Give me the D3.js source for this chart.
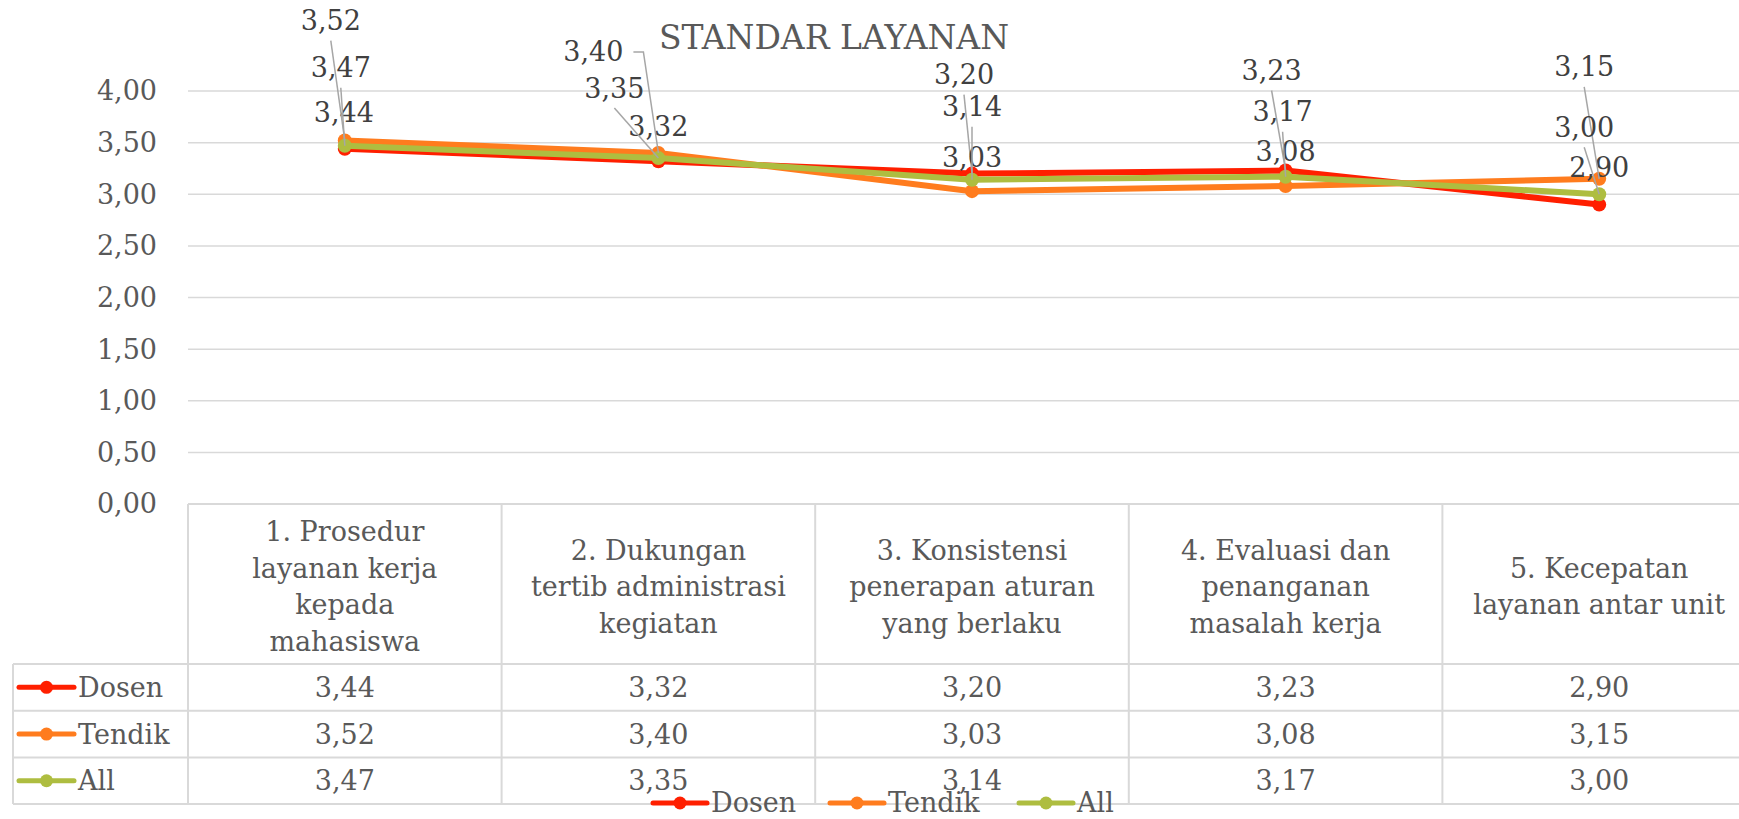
<!DOCTYPE html>
<html>
<head>
<meta charset="utf-8">
<script src="https://cdn.jsdelivr.net/npm/d3@7"></script>
<style>
	body { margin: 0; background: #fff; overflow: hidden; }
	text { font-family: "DejaVu Serif", serif; }
</style>
</head>
<body>
<div id="chart"></div>
<script>
// category header lines, as wrapped in the table
const categories = [
	["1. Prosedur", "layanan kerja", "kepada", "mahasiswa"],
	["2. Dukungan", "tertib administrasi", "kegiatan"],
	["3. Konsistensi", "penerapan aturan", "yang berlaku"],
	["4. Evaluasi dan", "penanganan", "masalah kerja"],
	["5. Kecepatan", "layanan antar unit"]
];
const seriesNames = ["Dosen", "Tendik", "All"];
const dosenValues = [3.44, 3.32, 3.20, 3.23, 2.90];
const tendikValues = [3.52, 3.40, 3.03, 3.08, 3.15];
const allValues = [3.47, 3.35, 3.14, 3.17, 3.00];
const yTickValues = [0, 0.5, 1, 1.5, 2, 2.5, 3, 3.5, 4];

// where the data labels were dragged to (dx, dy from the point)
const labelOffsets = [
	[[-1, -36], [0, -35], [-8, -99], [-14, -100], [0, -37]],
	[[-14, -120], [-65, -101], [0, -34], [0, -34], [-15, -112]],
	[[-4, -78], [-44, -70], [0, -73], [-3, -65], [-15, -67]]
];

const COLORS = ["#FF1F00", "#FF7C1E", "#AEBD40"];
const FONT_SIZE = 27;
const GRID = "#D9D9D9";
const TEXT = "#595959";

function fmt(v) {
	return d3.format(".2f")(v).replace(".", ",");
}

function plotChart(width = 1739, height = 819) {
	const series = [dosenValues, tendikValues, allValues].map((vals, i) => ({
		name: seriesNames[i],
		color: COLORS[i],
		values: vals.map((v, j) => ({ cat: j, value: v }))
	}));

	const svg = d3.select("#chart").append("svg")
		.attr("width", width)
		.attr("height", height);

	const x = d3.scaleBand()
		.domain(d3.range(categories.length))
		.range([188, 1756]);
	const y = d3.scaleLinear()
		.domain([0, 4])
		.range([504, 91]);
	const cx = i => x(i) + x.bandwidth() / 2;

	// title
	svg.append("text")
		.attr("x", 834)
		.attr("y", 49)
		.attr("text-anchor", "middle")
		.attr("font-size", 33)
		.attr("fill", TEXT)
		.text("STANDAR LAYANAN");

	// gridlines + y labels
	svg.append("g")
		.selectAll("line")
		.data(yTickValues)
		.join("line")
		.attr("x1", x.range()[0])
		.attr("x2", x.range()[1])
		.attr("y1", d => y(d))
		.attr("y2", d => y(d))
		.attr("stroke", GRID)
		.attr("stroke-width", 1.5);

	svg.append("g")
		.selectAll("text")
		.data(yTickValues)
		.join("text")
		.attr("x", 157)
		.attr("y", d => y(d))
		.attr("dy", "0.35em")
		.attr("text-anchor", "end")
		.attr("font-size", FONT_SIZE)
		.attr("fill", TEXT)
		.text(d => fmt(d));

	// data table under the plot
	const tableTop = y(0), headerBottom = 664, rowH = 46.7;
	const tableBottom = headerBottom + rowH * series.length;
	const table = svg.append("g")
		.attr("stroke", GRID)
		.attr("stroke-width", 2);

	table.append("line")
		.attr("x1", x.range()[0]).attr("x2", width)
		.attr("y1", tableTop).attr("y2", tableTop);
	table.selectAll(".hrow")
		.data(d3.range(series.length + 1))
		.join("line")
		.attr("x1", 13).attr("x2", width)
		.attr("y1", i => headerBottom + i * rowH)
		.attr("y2", i => headerBottom + i * rowH);
	table.append("line")
		.attr("x1", 13).attr("x2", 13)
		.attr("y1", headerBottom).attr("y2", tableBottom);
	table.selectAll(".vcol")
		.data(d3.range(categories.length))
		.join("line")
		.attr("x1", i => x(i)).attr("x2", i => x(i))
		.attr("y1", tableTop).attr("y2", tableBottom);

	// header text
	const headerMid = (tableTop + headerBottom) / 2 + 12;
	const lineH = 36.5;
	categories.forEach((lines, i) => {
		svg.append("text")
			.attr("text-anchor", "middle")
			.attr("font-size", FONT_SIZE)
			.attr("fill", TEXT)
			.selectAll("tspan")
			.data(lines)
			.join("tspan")
			.attr("x", cx(i))
			.attr("y", (d, k) => headerMid + (k - (lines.length - 1) / 2) * lineH)
			.text(d => d);
	});

	// table rows: legend key + values
	series.forEach((s, r) => {
		const rowMid = headerBottom + rowH * (r + 0.5);
		const key = svg.append("g");
		key.append("line")
			.attr("x1", 19).attr("x2", 74)
			.attr("y1", rowMid).attr("y2", rowMid)
			.attr("stroke", s.color)
			.attr("stroke-width", 5)
			.attr("stroke-linecap", "round");
		key.append("circle")
			.attr("cx", 46.5).attr("cy", rowMid).attr("r", 6.5)
			.attr("fill", s.color);
		svg.append("text")
			.attr("x", 78)
			.attr("y", rowMid)
			.attr("dy", "0.35em")
			.attr("font-size", FONT_SIZE)
			.attr("fill", TEXT)
			.text(s.name);
		svg.append("g")
			.selectAll("text")
			.data(s.values)
			.join("text")
			.attr("x", d => cx(d.cat))
			.attr("y", rowMid)
			.attr("dy", "0.35em")
			.attr("text-anchor", "middle")
			.attr("font-size", FONT_SIZE)
			.attr("fill", TEXT)
			.text(d => fmt(d.value));
	});

	// lines and markers, drawn series by series
	const line = d3.line()
		.x(d => cx(d.cat))
		.y(d => y(d.value));
	series.forEach(s => {
		const g = svg.append("g");
		g.append("path")
			.datum(s.values)
			.attr("d", line)
			.attr("fill", "none")
			.attr("stroke", s.color)
			.attr("stroke-width", 6)
			.attr("stroke-linejoin", "round")
			.attr("stroke-linecap", "round");
		g.selectAll("circle")
			.data(s.values)
			.join("circle")
			.attr("cx", d => cx(d.cat))
			.attr("cy", d => y(d.value))
			.attr("r", 7)
			.attr("fill", s.color);
	});

	// data labels with leader lines
	const labels = svg.append("g");
	series.forEach((s, si) => {
		s.values.forEach(d => {
			const px = cx(d.cat), py = y(d.value);
			const [dx, dy] = labelOffsets[si][d.cat];
			const lx = px + dx, ly = py + dy;
			if (dy < -45) {
				let pts;
				if (dx < -50) {
					// label sits left of the point: leader leaves from its right side
					pts = [[lx + 40, ly], [lx + 50, ly], [px, py]];
				} else {
					pts = [[lx, ly + 20], [px, py]];
				}
				labels.append("path")
					.attr("d", d3.line()(pts))
					.attr("fill", "none")
					.attr("stroke", "#A6A6A6")
					.attr("stroke-width", 1.5);
			}
			labels.append("text")
				.attr("x", lx)
				.attr("y", ly)
				.attr("dy", "0.35em")
				.attr("text-anchor", "middle")
				.attr("font-size", FONT_SIZE)
				.attr("fill", "#404040")
				.text(fmt(d.value));
		});
	});

	// legend at the bottom (overlaps the table edge, as in the original)
	const legendX = [653, 830, 1019];
	const legend = svg.append("g");
	series.forEach((s, i) => {
		const lx = legendX[i], ly = 803;
		legend.append("line")
			.attr("x1", lx).attr("x2", lx + 54)
			.attr("y1", ly).attr("y2", ly)
			.attr("stroke", s.color)
			.attr("stroke-width", 5)
			.attr("stroke-linecap", "round");
		legend.append("circle")
			.attr("cx", lx + 27).attr("cy", ly).attr("r", 6.5)
			.attr("fill", s.color);
		legend.append("text")
			.attr("x", lx + 58)
			.attr("y", ly)
			.attr("dy", "0.35em")
			.attr("font-size", FONT_SIZE)
			.attr("fill", TEXT)
			.text(s.name);
	});
}

plotChart();
</script>
</body>
</html>
